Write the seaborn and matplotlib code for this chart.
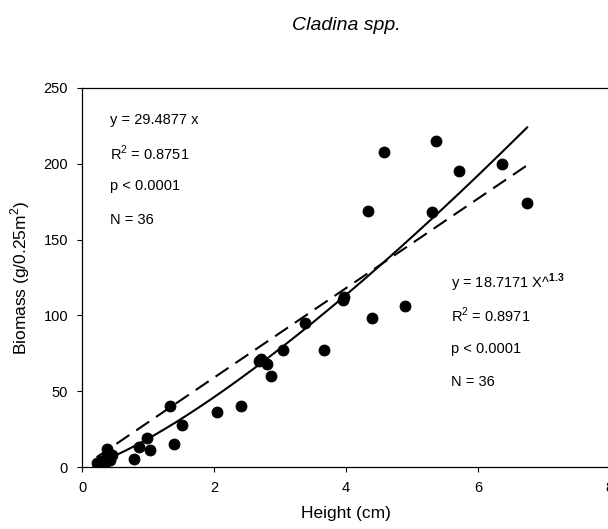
import numpy as np
import pandas as pd
import matplotlib
matplotlib.use("Agg")
import matplotlib.pyplot as plt
import seaborn as sns

# 高度 (cm) 和生物量 (g/0.25m2)
height = [4.58, 5.36, 5.71, 6.36, 6.75, 4.34, 5.30, 3.95, 3.97, 4.89,
          4.39, 3.38, 3.67, 3.04, 2.71, 2.81, 2.87, 1.34, 2.05, 2.41,
          1.52, 0.99, 0.86, 1.03, 1.40, 0.79, 0.38, 0.22, 0.28, 0.32,
          0.43, 0.38, 0.26, 0.35, 2.68, 0.45]
biomass = [208, 215, 195, 200, 174, 169, 168, 110, 112, 106,
           98, 95, 77, 77, 71, 68, 60, 40.5, 36, 40,
           28, 19.5, 13.5, 11, 15, 5.5, 12, 2.5, 4, 1.5,
           5, 7, 1.5, 3, 70, 8]

# 拟合方程的系数
lin_slope = 29.4877
pow_coef = 18.7171
pow_exp = 1.3

lin_text = ["y = 29.4877 x", "R$^2$ = 0.8751", "p < 0.0001", "N = 36"]
pow_text = [r"y = 18.7171 X^$^{\mathbf{1.3}}$", "R$^2$ = 0.8971", "p < 0.0001", "N = 36"]

sns.set_style("ticks")
plt.rcParams['font.family'] = ['Liberation Sans', 'DejaVu Sans']
plt.rcParams['mathtext.fontset'] = 'custom'
plt.rcParams['mathtext.rm'] = 'Liberation Sans'
plt.rcParams['mathtext.bf'] = 'Liberation Sans:bold'
plt.rcParams['text.color'] = 'black'
plt.rcParams['axes.labelcolor'] = 'black'

df = pd.DataFrame({'height': height, 'biomass': biomass})
xs = np.linspace(min(height), max(height), 200)
fit = pd.DataFrame({'x': xs,
                    'lin': lin_slope * xs,
                    'pow': pow_coef * xs ** pow_exp})

fig = plt.figure(figsize=(6.08, 5.29), dpi=100)
ax = fig.add_axes([0.135, 0.117, 0.868, 0.717])

sns.lineplot(data=fit, x='x', y='pow', color='black', lw=1.5, ax=ax)
sns.lineplot(data=fit, x='x', y='lin', color='black', lw=1.5, ax=ax,
             linestyle=(0, (7.5, 4)))
sns.scatterplot(data=df, x='height', y='biomass', color='black', s=62,
                edgecolor='black', ax=ax, zorder=3)

ax.set_xlim(0, 8)
ax.set_ylim(0, 250)
ax.set_xticks([0, 2, 4, 6, 8])
ax.set_yticks([0, 50, 100, 150, 200, 250])
ax.tick_params(labelsize=10.5, direction='out', length=3.6, width=0.8,
               colors='black', pad=6.5)
for s in ax.spines.values():
    s.set_linewidth(0.9)
    s.set_color('black')

ax.set_xlabel('Height (cm)', fontsize=12.5, labelpad=8)
ax.set_ylabel('Biomass (g/0.25m$^2$)', fontsize=12.5, labelpad=8)
fig.text(0.569, 1 - 30 / 529, 'Cladina spp.', fontsize=14, style='italic',
         ha='center', va='baseline')

# 注释文字
for i, t in enumerate(lin_text):
    ax.text(0.43, 229 - i * 22, t, fontsize=10.5, va='center')
for i, t in enumerate(pow_text):
    ax.text(5.59, 121.5 - i * 21.7, t, fontsize=10.5, va='center')

plt.savefig('out.png', dpi=100)
